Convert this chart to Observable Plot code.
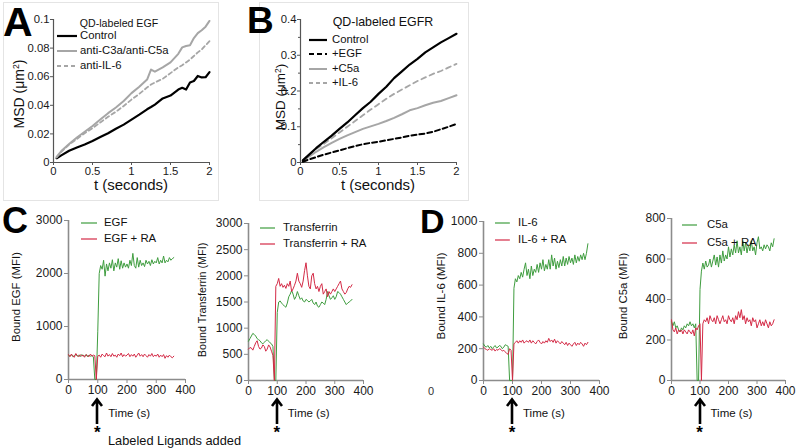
<!DOCTYPE html>
<html><head><meta charset="utf-8">
<script src="https://cdn.jsdelivr.net/npm/d3@7"></script>
<script src="https://cdn.jsdelivr.net/npm/@observablehq/plot@0.6"></script>
<style>
body{margin:0;background:#fff;}
#fig{position:relative;width:800px;height:448px;overflow:hidden;background:#fff;font-family:"Liberation Sans",Arial,Helvetica,sans-serif;color:#111;}
.abs{position:absolute;white-space:nowrap;line-height:1;}
.box{position:absolute;border:1px solid #e4e4e4;box-sizing:border-box;}
sup{font-size:0.62em;vertical-align:0.55em;line-height:0;}
</style></head><body><div id="fig"></div><script>
// ---------- Panel A: QD-labeled EGF (MSD vs t) ----------
const tA = [0.04,0.1,0.2,0.3,0.4,0.5,0.6,0.7,0.8,0.9,1.0,1.1,1.2,1.25,1.3,1.4,1.5,1.6,1.65,1.7,1.75,1.8,1.85,1.9,1.95,2.0];
const aControl = [.0030,.0050,.0082,.0105,.0126,.0150,.0178,.0205,.0236,.0265,.0300,.0335,.0372,.0388,.0405,.0448,.0468,.0510,.0522,.0510,.0560,.0570,.0605,.0595,.0596,.0632];
const aAntiC3aC5a = [.0040,.0080,.0130,.0175,.0215,.0255,.0300,.0345,.0385,.0430,.0485,.0530,.0580,.0650,.0635,.0665,.0700,.0760,.0805,.0815,.0820,.0870,.0905,.0925,.0950,.0990];
const aAntiIL6 = [.0035,.0075,.0125,.0165,.0205,.0240,.0280,.0320,.0355,.0395,.0440,.0480,.0525,.0545,.0560,.0585,.0625,.0665,.0680,.0700,.0720,.0745,.0770,.0790,.0820,.0848];
const aXTicks = [0,0.5,1,1.5,2];
const aYTicks = [0,0.02,0.04,0.06,0.08,0.1];

// ---------- Panel B: QD-labeled EGFR ----------
const tB = [0.03,0.1,0.2,0.3,0.4,0.5,0.6,0.7,0.8,0.9,1.0,1.1,1.2,1.3,1.4,1.5,1.6,1.7,1.8,1.9,2.0];
const bControl = [.006,.020,.040,.058,.075,.094,.112,.132,.152,.170,.192,.212,.236,.255,.274,.290,.308,.322,.336,.348,.360];
const bEGF = [.002,.008,.015,.022,.028,.034,.040,.046,.051,.055,.058,.062,.066,.070,.075,.078,.081,.086,.093,.100,.108];
const bC5a = [.005,.015,.030,.043,.055,.066,.076,.085,.094,.101,.108,.116,.125,.135,.146,.152,.160,.167,.172,.180,.188];
const bIL6 = [.006,.020,.038,.052,.068,.084,.100,.116,.132,.148,.163,.178,.192,.204,.216,.228,.238,.248,.256,.266,.276];
const bXTicks = [0,0.5,1,1.5,2];
const bYTicks = [0,0.1,0.2,0.3,0.4];
const bYMinor = [0.05,0.15,0.25,0.35];

// ---------- Panels C and D: bound ligand (MFI) vs time ----------
const secs = [0,5,10,15,20,25,30,35,40,45,50,55,60,65,70,75,80,85,90,95,100,105,110,115,120,125,130,135,140,145,150,155,160,165,170,175,180,185,190,195,200,205,210,215,220,225,230,235,240,245,250,255,260,265,270,275,280,285,290,295,300,305,310,315,320,325,330,335,340,345,350,355,360];
const timeTicks = [0,100,200,300,400];
const egf = [460,440,470,430,450,480,440,460,430,470, 450,440,470,430,460,440,450,430,0,0,
  900,2000,2150,2080,2250,1950,2180,2050,2200,2100, 2260,2050,2200,2120,2280,2080,2240,2100,2200,2120,
  2180,2100,2250,2150,2380,2150,2100,2300,2120,2250, 2150,2200,2130,2250,2180,2230,2150,2260,2180,2230,
  2200,2300,2180,2250,2200,2330,2200,2250,2220,2300, 2250,2280,2300];
const egfRA = [470,430,480,440,420,490,450,430,470,440, 460,420,470,450,430,480,440,460,450,0,
  440,460,420,480,450,430,500,440,470,430, 490,440,460,420,480,450,500,430,470,440,
  460,490,430,470,440,480,420,460,500,440, 470,430,480,450,420,470,440,490,430,460,
  440,480,420,460,430,470,400,450,420,460, 430,410,440];
const egfYTicks = [0,1000,2000,3000];
const tf = [750,800,850,900,880,850,800,780,760,720, 700,730,760,780,750,720,700,650,0,0,
  1300,1500,1520,1480,1450,1420,1400,1480,1600,1650, 1720,1650,1550,1600,1700,1620,1550,1580,1520,1500,
  1550,1530,1500,1520,1550,1480,1450,1500,1420,1400, 1450,1500,1480,1450,1550,1700,1620,1550,1580,1620,
  1550,1600,1700,1680,1650,1600,1550,1500,1450,1480, 1500,1520,1550];
const tfRA = [600,630,620,580,650,720,760,650,600,620, 680,650,560,600,680,640,560,480,0,1800,
  1850,1950,1800,1850,1780,1820,1760,1850,1800,1900, 1700,1750,1820,1900,2050,1900,1850,1780,1900,2100,
  2250,2000,1800,1750,2000,2050,1850,1750,1800,1700, 1800,1850,1650,1700,1750,1600,1700,1650,1700,1750,
  1700,1750,1800,1850,1900,1750,1700,1650,1680,1750, 1800,1780,1830];
const tfYTicks = [0,500,1000,1500,2000,2500,3000];
const il6 = [230,215,210,220,205,215,200,210,220,205, 210,220,215,200,210,225,220,215,0,0,
  0,580,640,620,660,640,680,650,700,740, 660,700,640,720,660,700,680,730,680,740,
  700,760,690,730,700,760,700,790,720,770, 700,750,710,760,720,780,720,770,730,780,
  740,770,730,790,740,780,750,790,760,800, 760,800,860];
const il6RA = [210,200,195,190,200,195,190,200,185,195, 190,200,195,185,190,180,170,165,200,190,
  0,230,240,250,235,250,240,255,235,245, 250,240,255,235,250,240,230,245,255,240,
  230,245,235,250,240,265,245,255,240,260, 235,250,240,230,245,235,225,240,220,235,
  225,215,230,240,220,235,225,240,230,215, 235,225,240];
const il6YTicks = [0,200,400,600,800,1000];
const c5a = [290,270,290,260,270,250,240,260,250,270, 260,280,270,290,270,280,260,280,0,0,
  450,540,580,550,590,560,570,600,560,590, 620,570,610,560,620,580,640,590,620,600,
  660,610,650,620,670,630,690,630,660,620, 690,640,680,630,670,640,690,640,660,620,
  680,710,650,660,640,670,650,670,660,640, 680,660,700];
const c5aRA = [300,250,240,260,230,250,240,250,230,250, 240,230,250,240,230,250,220,260,250,270,
  280,0,280,300,290,310,280,320,300,290, 310,280,320,300,280,300,320,290,300,280,
  320,300,290,310,280,320,300,340,310,350, 300,320,280,310,290,300,270,310,290,300,
  260,280,300,270,290,270,300,280,260,290, 270,280,300];
const c5aYTicks = [0,200,400,600,800];
const ligandAddedAt = 100;

// ---------- helpers ----------
const fig = document.getElementById("fig");
const FONT = '"Liberation Sans", Arial, Helvetica, sans-serif';
const GREEN = "#3f9d3f", RED = "#d42a46";
const pts = (xs, ys) => ys.map((y, i) => ({x: xs[i], y}));

function addText(html, x, y, size, o = {}) {
  const d = document.createElement("div");
  d.className = "abs";
  d.innerHTML = html;
  d.style.left = x + "px"; d.style.top = y + "px";
  d.style.fontSize = size + "px";
  d.style.fontWeight = o.weight || 400;
  d.style.color = o.color || "#111";
  const tx = o.anchor === "center" ? "-50%" : o.anchor === "right" ? "-100%" : "0";
  d.style.transform = `translate(${tx},-50%)` + (o.rotate ? " rotate(-90deg)" : "");
  fig.appendChild(d);
  return d;
}
function addBox(x, y, w, h) {
  const d = document.createElement("div");
  d.className = "box";
  Object.assign(d.style, {left: x + "px", top: y + "px", width: w + "px", height: h + "px"});
  fig.appendChild(d);
}
function legendRow(x1, x2, y, stroke, width, dash, tx, label, size) {
  const ns = "http://www.w3.org/2000/svg";
  const s = document.createElementNS(ns, "svg");
  s.setAttribute("width", x2 - x1); s.setAttribute("height", 8);
  s.style.position = "absolute"; s.style.left = x1 + "px"; s.style.top = (y - 4) + "px";
  const l = document.createElementNS(ns, "line");
  l.setAttribute("x1", 0); l.setAttribute("x2", x2 - x1); l.setAttribute("y1", 4); l.setAttribute("y2", 4);
  l.setAttribute("stroke", stroke); l.setAttribute("stroke-width", width);
  if (dash) l.setAttribute("stroke-dasharray", dash);
  s.appendChild(l); fig.appendChild(s);
  addText(label, tx, y, size);
}
function arrowAt(x, yTop, yBot) {
  const ns = "http://www.w3.org/2000/svg";
  const s = document.createElementNS(ns, "svg");
  s.setAttribute("width", 16); s.setAttribute("height", yBot - yTop + 4);
  s.style.position = "absolute"; s.style.left = (x - 8) + "px"; s.style.top = (yTop - 2) + "px";
  s.innerHTML = `<path d="M8,${yBot - yTop + 2} V3 M3,9 L8,2.5 L13,9" fill="none" stroke="#000" stroke-width="2.6" stroke-linejoin="miter"/>`;
  fig.appendChild(s);
}

function panel(o) {
  const mL = 44, mR = 16, mT = 8, mB = 24;
  const marks = [
    Plot.axisX({ticks: o.xTicks, tickSize: o.tickSize, tickPadding: o.padX, tickFormat: d => String(d), label: null, stroke: o.axisColor, fill: "#1a1a1a"}),
    Plot.axisY({ticks: o.yTicks, tickSize: o.tickSize, tickPadding: o.padY, tickFormat: d => String(d), label: null, stroke: o.axisColor, fill: "#1a1a1a"})
  ];
  if (o.yMinor) marks.push(Plot.axisY({ticks: o.yMinor, tickSize: 2, tickFormat: () => "", label: null, stroke: o.axisColor}));
  marks.push(Plot.ruleX([o.xDomain[0]], {stroke: o.axisColor, strokeWidth: o.axisWidth}));
  marks.push(Plot.ruleY([o.yDomain[0]], {stroke: o.axisColor, strokeWidth: o.axisWidth}));
  for (const s of o.series) {
    marks.push(Plot.line(s.data, {x: "x", y: "y", stroke: s.color, strokeWidth: s.width, strokeDasharray: s.dash || null, strokeLinejoin: "round"}));
  }
  const svg = Plot.plot({
    width: o.fx1 - o.fx0 + mL + mR, height: o.fy1 - o.fy0 + mT + mB,
    marginLeft: mL, marginRight: mR, marginTop: mT, marginBottom: mB,
    style: {fontFamily: FONT, fontSize: o.fontSize + "px", background: "transparent", overflow: "visible", color: "#1a1a1a"},
    x: {domain: o.xDomain}, y: {domain: o.yDomain},
    marks
  });
  const left = o.fx0 - mL, top = o.fy0 - mT;
  svg.style.position = "absolute"; svg.style.left = left + "px"; svg.style.top = top + "px";
  fig.appendChild(svg);
  return {svg, left, top};
}

// ---------- boxes around top panels ----------
addBox(3, 2, 216, 199);
addBox(259, 2, 210, 199);

// ---------- Panel A ----------
panel({fx0: 53, fx1: 209, fy0: 19, fy1: 162, xDomain: [0, 2], yDomain: [0, 0.1],
  xTicks: aXTicks, yTicks: aYTicks, tickSize: 3, padX: 1, padY: 1, fontSize: 11.3,
  axisColor: "#555", axisWidth: 1.2,
  series: [
    {data: pts(tA, aControl), color: "#000", width: 2.2},
    {data: pts(tA, aAntiC3aC5a), color: "#a6a6a6", width: 2},
    {data: pts(tA, aAntiIL6), color: "#a6a6a6", width: 1.8, dash: "4,3"}
  ]});
addText("QD-labeled EGF", 119, 23, 10.6, {anchor: "center"});
legendRow(57, 77, 36, "#000", 2.2, null, 80, "Control", 11.3);
legendRow(57, 77, 51, "#a6a6a6", 2, null, 80, "anti-C3a/anti-C5a", 11.3);
legendRow(57, 77, 65.5, "#a6a6a6", 1.8, "4,3", 80, "anti-IL-6", 11.3);
addText("t (seconds)", 131, 184, 15, {anchor: "center"});
addText("MSD (&mu;m<sup>2</sup>)", 19, 94, 14, {anchor: "center", rotate: true});
addText("A", 3, 22, 41, {weight: 700, color: "#000"});

// ---------- Panel B ----------
panel({fx0: 300, fx1: 456, fy0: 19, fy1: 162, xDomain: [0, 2], yDomain: [0, 0.4],
  xTicks: bXTicks, yTicks: bYTicks, yMinor: bYMinor, tickSize: 3, padX: 1, padY: 1, fontSize: 11.3,
  axisColor: "#555", axisWidth: 1.2,
  series: [
    {data: pts(tB, bC5a), color: "#a6a6a6", width: 2},
    {data: pts(tB, bIL6), color: "#a6a6a6", width: 1.8, dash: "5,4"},
    {data: pts(tB, bEGF), color: "#000", width: 2, dash: "5,3"},
    {data: pts(tB, bControl), color: "#000", width: 2.2}
  ]});
addText("QD-labeled EGFR", 383, 22, 12.4, {anchor: "center"});
legendRow(309, 327, 40, "#000", 2.2, null, 332, "Control", 11.3);
legendRow(309, 327, 54.3, "#000", 2, "5,3", 332, "+EGF", 11.3);
legendRow(309, 327, 68.6, "#a6a6a6", 2, null, 332, "+C5a", 11.3);
legendRow(309, 327, 82.9, "#a6a6a6", 1.8, "4,3", 332, "+IL-6", 11.3);
addText("t (seconds)", 378, 184, 15, {anchor: "center"});
addText("MSD (&mu;m<sup>2</sup>)", 281, 97, 13.5, {anchor: "center", rotate: true});
addText("B", 247, 20, 37, {weight: 700, color: "#000"});

// ---------- bottom panels ----------
const bottom = [
  {fx0: 68, fx1: 185, fy0: 220, fy1: 379, yMax: 3000, yTicks: egfYTicks, a: egf, b: egfRA,
   la: "EGF", lb: "EGF + RA", leg: [81, 97, 223, 239, 104], ylab: "Bound EGF (MFI)", ylx: 17, yly: 297, yls: 11.4},
  {fx0: 248, fx1: 363, fy0: 223, fy1: 380, yMax: 3000, yTicks: tfYTicks, a: tf, b: tfRA,
   la: "Transferrin", lb: "Transferrin + RA", leg: [260, 275, 228, 244, 283], ylab: "Bound Transferrin (MFI)", ylx: 202, yly: 300, yls: 10.8},
  {fx0: 483, fx1: 599, fy0: 221, fy1: 380, yMax: 1000, yTicks: il6YTicks, a: il6, b: il6RA,
   la: "IL-6", lb: "IL-6 + RA", leg: [495, 510, 223, 240, 518], ylab: "Bound IL-6 (MFI)", ylx: 442, yly: 296, yls: 11.5},
  {fx0: 671, fx1: 785, fy0: 218, fy1: 380, yMax: 800, yTicks: c5aYTicks, a: c5a, b: c5aRA,
   la: "C5a", lb: "C5a + RA", leg: [682, 697, 225, 243, 707], ylab: "Bound C5a (MFI)", ylx: 624, yly: 296, yls: 11.3}
];
for (const p of bottom) {
  const r = panel({fx0: p.fx0, fx1: p.fx1, fy0: p.fy0, fy1: p.fy1, xDomain: [0, 400], yDomain: [0, p.yMax],
    xTicks: timeTicks, yTicks: p.yTicks, tickSize: 4, padX: 2, padY: 2, fontSize: 12,
    axisColor: "#8c8c8c", axisWidth: 1.6,
    series: [
      {data: pts(secs, p.a), color: GREEN, width: 1},
      {data: pts(secs, p.b), color: RED, width: 1}
    ]});
  const [x1, x2, y1, y2, tx] = p.leg;
  legendRow(x1, x2, y1, GREEN, 1.2, null, tx, p.la, 11.4);
  legendRow(x1, x2, y2, RED, 1.2, null, tx, p.lb, 11.4);
  addText(p.ylab, p.ylx, p.yly, p.yls, {anchor: "center", rotate: true});
  const ax = r.left + r.svg.scale("x").apply(ligandAddedAt);
  arrowAt(ax, 399, 424);
  addText("*", ax, 432, 17, {anchor: "center", weight: 700, color: "#000"});
  addText("Time (s)", ax + 11, 414, 11.5);
}
addText("Labeled Ligands added", 108, 441, 12.8);
addText("C", 2, 221, 36, {weight: 700, color: "#000"});
addText("D", 420, 221, 34, {weight: 700, color: "#000"});
addText("0", 428, 391, 11, {color: "#333"});
</script></body></html>
